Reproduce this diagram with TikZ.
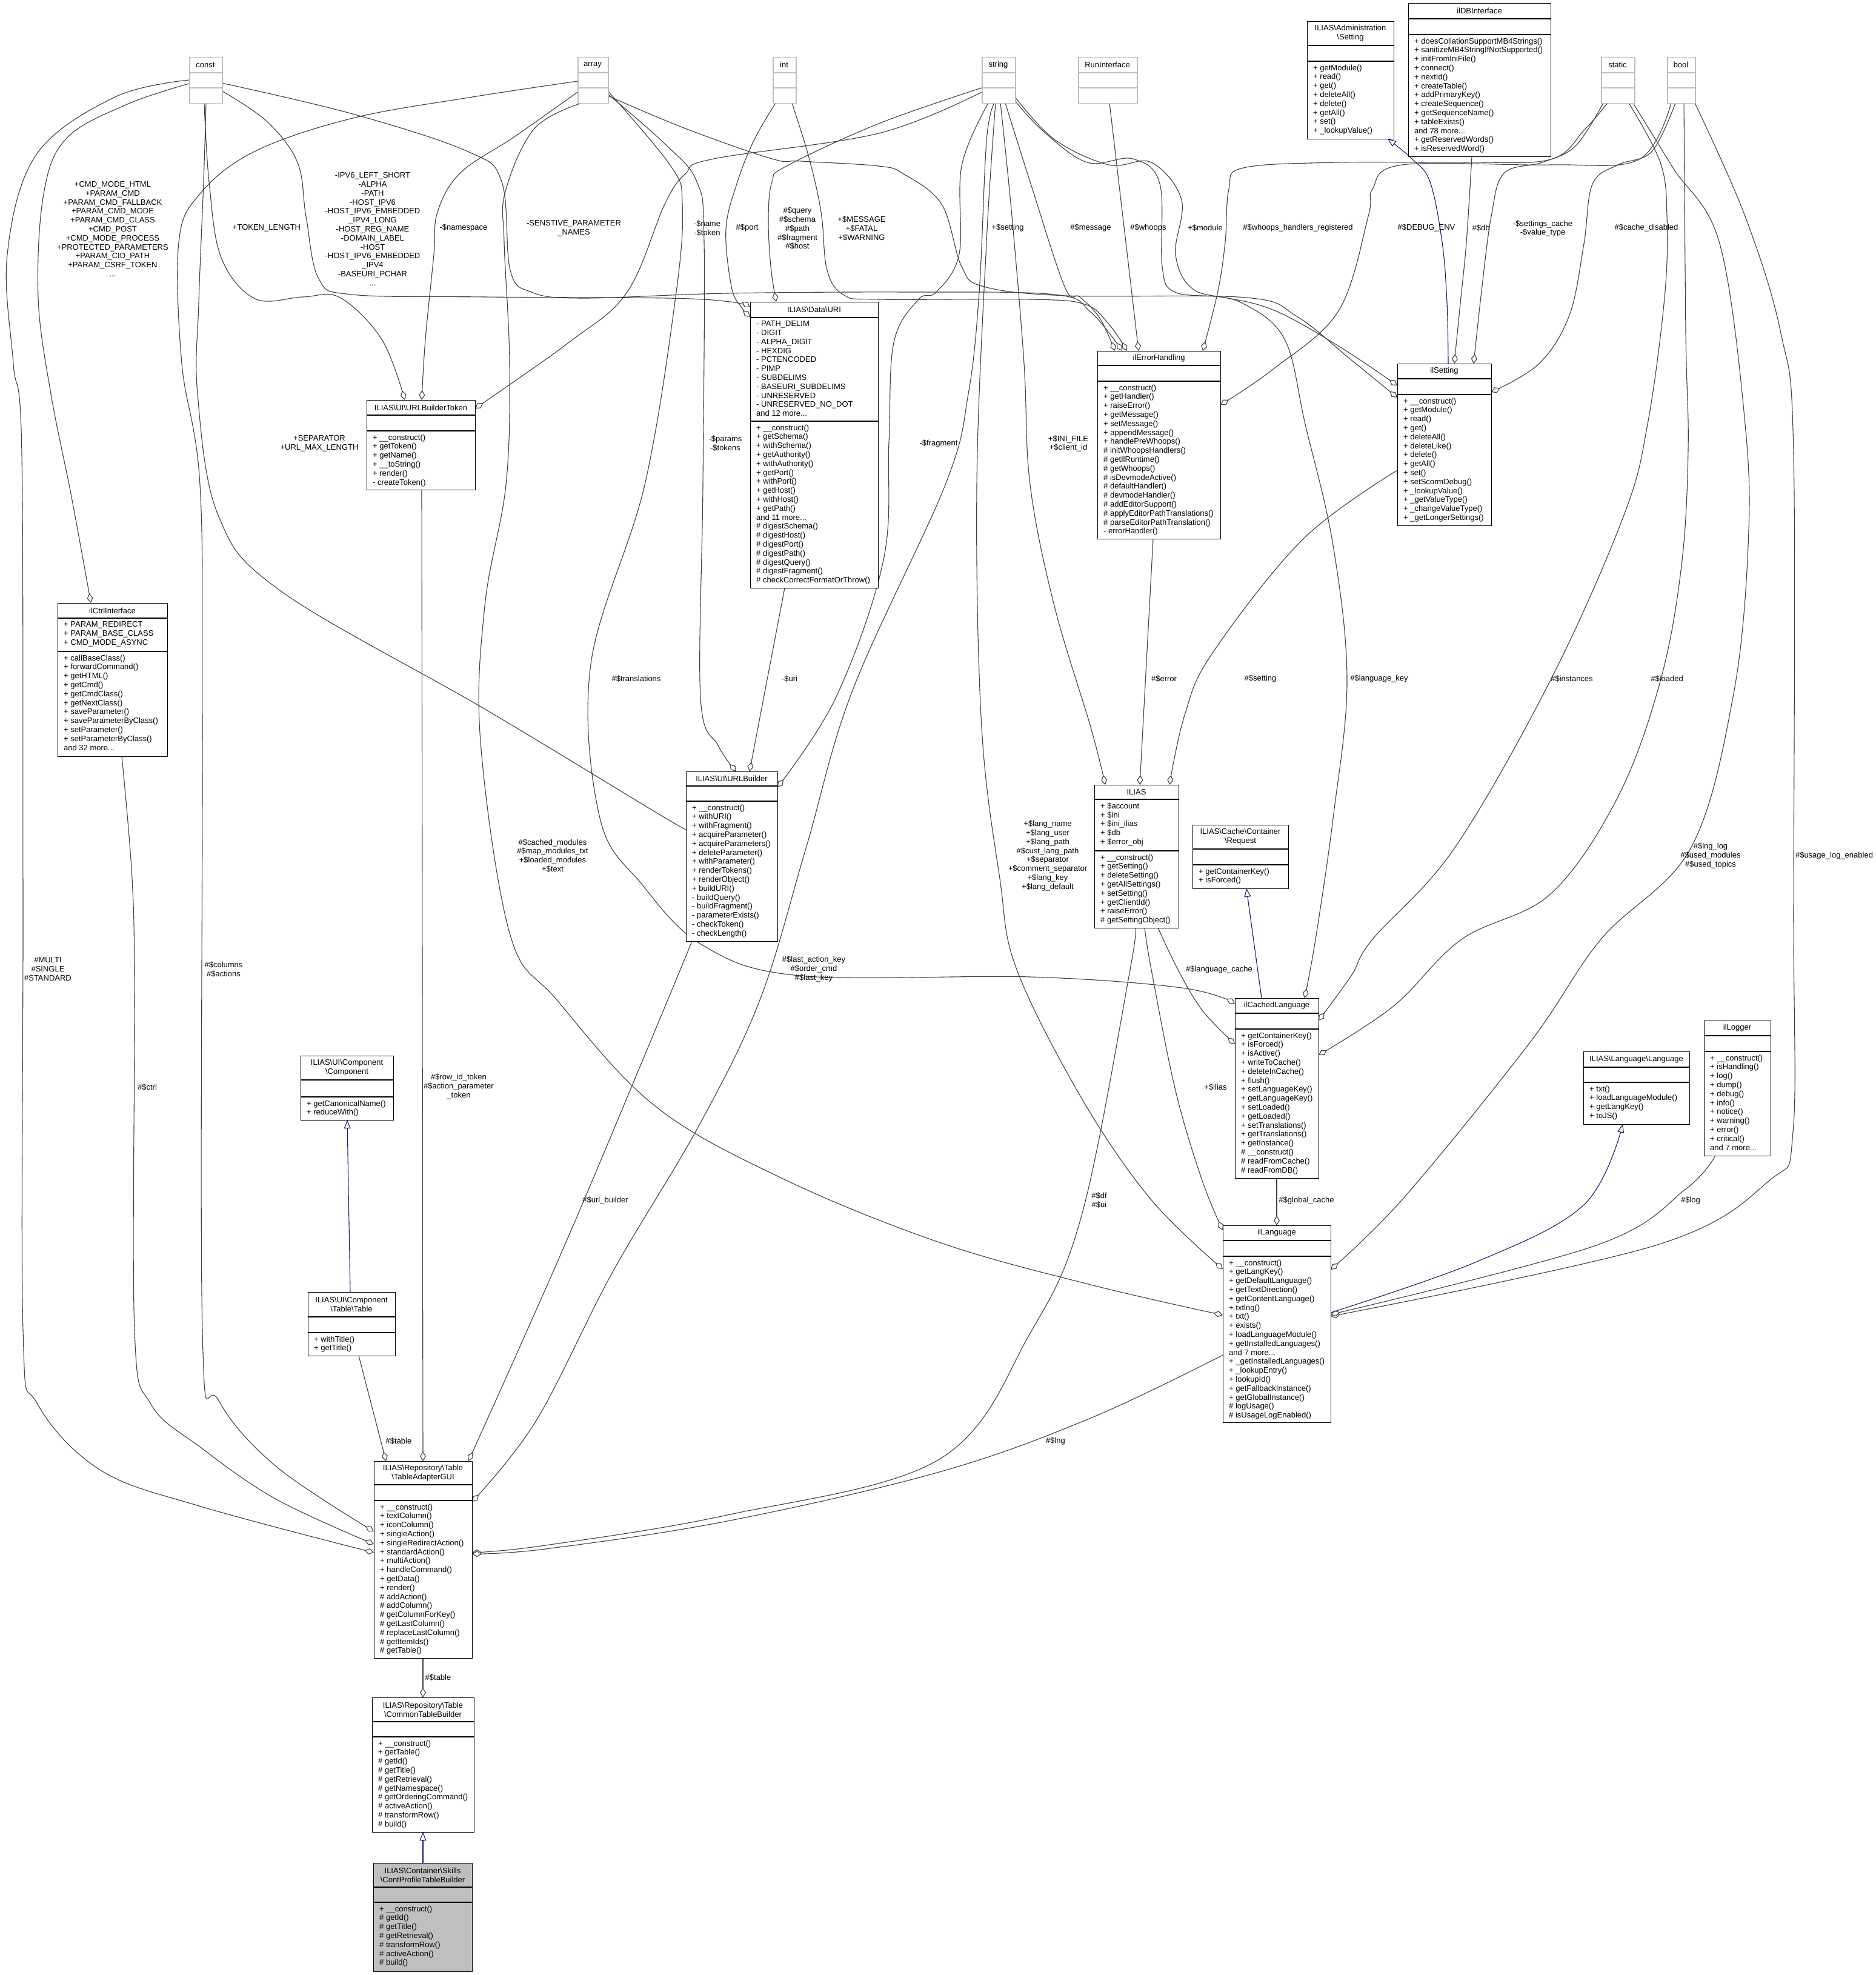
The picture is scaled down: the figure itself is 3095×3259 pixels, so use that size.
\documentclass[tikz,border=0pt]{standalone}
\usepackage{fontspec}
\setmainfont{Liberation Sans}
\usetikzlibrary{arrows.meta}
\definecolor{edgec}{HTML}{404040}
\definecolor{typec}{HTML}{BFBFBF}
\definecolor{inhc}{HTML}{191970}
\definecolor{curc}{HTML}{BFBFBF}
\pgfdeclarelayer{bg}
\pgfsetlayers{bg,main}
\tikzset{
 cbox/.style={draw=black,line width=1.3pt,inner sep=0pt,fill=white},
 boxline/.style={draw=black,line width=1.3pt},
 ttl/.style={font=\fontsize{13}{14.8}\selectfont,align=center,inner sep=0pt},
 mem/.style={font=\fontsize{13}{14.8}\selectfont,align=left,inner sep=0pt,anchor=north west},
 lbl/.style={font=\fontsize{13}{14.8}\selectfont,align=center,inner sep=0pt},
 conn/.style={draw=edgec,line width=1.1pt,-{Diamond[length=16pt,width=10pt,fill=white]}},
 inh/.style={draw=inhc,line width=1.1pt,-{Triangle[length=14pt,width=11pt,fill=white]}},
 sm/.style={smooth,tension=0.6}
}
\newcommand{\classbox}[9]{%
 \node[cbox,#8,minimum width={#4-#2},minimum height={#5-#3},anchor=north west] (#1) at (#2,#3) {};
 \draw[boxline] (#2,#6) -- (#4,#6) (#2,#7) -- (#4,#7);
 \node[ttl] at ({(#2+#4)/2},{(#3+#6)/2}) {#9};
}
\newcommand{\typebox}[4]{%
 \node[cbox,draw=typec,line width=1.5pt,minimum width={#3-#2},minimum height=76,anchor=north west] (#1) at (#2,94) {};
 \draw[typec,line width=1.5pt] (#2,120) -- (#3,120) (#2,145) -- (#3,145);
 \node[ttl] at ({(#2+#3)/2},107) {#4};
}
\begin{document}
\begin{tikzpicture}[x=1pt,y=-1pt]
\useasboundingbox (0,0) rectangle (3095,3259);

% ---------- type boxes ----------
\typebox{const}{312}{366}{const}
\typebox{array}{953}{1003}{array}
\typebox{int}{1275}{1313}{int}
\typebox{string}{1620}{1675}{string}
\typebox{runif}{1779}{1876}{RunInterface}
\typebox{static}{2642}{2697}{static}
\typebox{bool}{2751}{2797}{bool}

% ---------- class boxes ----------
\classbox{admset}{2157}{35}{2300}{229}{75}{101}{}{ILIAS\textbackslash Administration\\\textbackslash Setting}
\node[mem] at (2167,106.5) {+ getModule()\\+ read()\\+ get()\\+ deleteAll()\\+ delete()\\+ getAll()\\+ set()\\+ \_lookupValue()};

\classbox{dbi}{2324}{5}{2559}{258}{31}{57}{}{ilDBInterface}
\node[mem] at (2334,62.5) {+ doesCollationSupportMB4Strings()\\+ sanitizeMB4StringIfNotSupported()\\+ initFromIniFile()\\+ connect()\\+ nextId()\\+ createTable()\\+ addPrimaryKey()\\+ createSequence()\\+ getSequenceName()\\+ tableExists()\\and 78 more...\\+ getReservedWords()\\+ isReservedWord()};

\classbox{token}{605}{660}{784}{808}{685}{711}{}{ILIAS\textbackslash UI\textbackslash URLBuilderToken}
\node[mem] at (615,716.5) {+ \_\_construct()\\+ getToken()\\+ getName()\\+ \_\_toString()\\+ render()\\- createToken()};

\classbox{uri}{1238}{498}{1449}{970}{524}{695}{}{ILIAS\textbackslash Data\textbackslash URI}
\node[mem] at (1248,529.5) {- PATH\_DELIM\\- DIGIT\\- ALPHA\_DIGIT\\- HEXDIG\\- PCTENCODED\\- PIMP\\- SUBDELIMS\\- BASEURI\_SUBDELIMS\\- UNRESERVED\\- UNRESERVED\_NO\_DOT\\and 12 more...};
\node[mem] at (1248,700.5) {+ \_\_construct()\\+ getSchema()\\+ withSchema()\\+ getAuthority()\\+ withAuthority()\\+ getPort()\\+ withPort()\\+ getHost()\\+ withHost()\\+ getPath()\\and 11 more...\\\# digestSchema()\\\# digestHost()\\\# digestPort()\\\# digestPath()\\\# digestQuery()\\\# digestFragment()\\\# checkCorrectFormatOrThrow()};

\classbox{err}{1811}{579}{2014}{889}{603}{629}{}{ilErrorHandling}
\node[mem] at (1821,634.5) {+ \_\_construct()\\+ getHandler()\\+ raiseError()\\+ getMessage()\\+ setMessage()\\+ appendMessage()\\+ handlePreWhoops()\\\# initWhoopsHandlers()\\\# getIlRuntime()\\\# getWhoops()\\\# isDevmodeActive()\\\# defaultHandler()\\\# devmodeHandler()\\\# addEditorSupport()\\\# applyEditorPathTranslations()\\\# parseEditorPathTranslation()\\- errorHandler()};

\classbox{ilset}{2306}{600}{2461}{867}{625}{651}{}{ilSetting}
\node[mem] at (2316,656.5) {+ \_\_construct()\\+ getModule()\\+ read()\\+ get()\\+ deleteAll()\\+ deleteLike()\\+ delete()\\+ getAll()\\+ set()\\+ setScormDebug()\\+ \_lookupValue()\\+ \_getValueType()\\+ \_changeValueType()\\+ \_getLongerSettings()};

\classbox{ctrl}{95}{995}{276}{1248}{1020}{1075}{}{ilCtrlInterface}
\node[mem] at (105,1025.5) {+ PARAM\_REDIRECT\\+ PARAM\_BASE\_CLASS\\+ CMD\_MODE\_ASYNC};
\node[mem] at (105,1080.5) {+ callBaseClass()\\+ forwardCommand()\\+ getHTML()\\+ getCmd()\\+ getCmdClass()\\+ getNextClass()\\+ saveParameter()\\+ saveParameterByClass()\\+ setParameter()\\+ setParameterByClass()\\and 32 more...};

\classbox{ub}{1132}{1273}{1283}{1553}{1297}{1322}{}{ILIAS\textbackslash UI\textbackslash URLBuilder}
\node[mem] at (1142,1327.5) {+ \_\_construct()\\+ withURI()\\+ withFragment()\\+ acquireParameter()\\+ acquireParameters()\\+ deleteParameter()\\+ withParameter()\\+ renderTokens()\\+ renderObject()\\+ buildURI()\\- buildQuery()\\- buildFragment()\\- parameterExists()\\- checkToken()\\- checkLength()};

\classbox{ilias}{1806}{1295}{1945}{1531}{1319}{1404}{}{ILIAS}
\node[mem] at (1816,1324.5) {+ \$account\\+ \$ini\\+ \$ini\_ilias\\+ \$db\\+ \$error\_obj};
\node[mem] at (1816,1409.5) {+ \_\_construct()\\+ getSetting()\\+ deleteSetting()\\+ getAllSettings()\\+ setSetting()\\+ getClientId()\\+ raiseError()\\\# getSettingObject()};

\classbox{req}{1968}{1361}{2126}{1466}{1401}{1427}{}{ILIAS\textbackslash Cache\textbackslash Container\\\textbackslash Request}
\node[mem] at (1978,1432.5) {+ getContainerKey()\\+ isForced()};

\classbox{cached}{2038}{1647}{2176}{1944}{1672}{1698}{}{ilCachedLanguage}
\node[mem] at (2048,1703.5) {+ getContainerKey()\\+ isForced()\\+ isActive()\\+ writeToCache()\\+ deleteInCache()\\+ flush()\\+ setLanguageKey()\\+ getLanguageKey()\\+ setLoaded()\\+ getLoaded()\\+ setTranslations()\\+ getTranslations()\\+ getInstance()\\\# \_\_construct()\\\# readFromCache()\\\# readFromDB()};

\classbox{comp}{496}{1742}{649}{1848}{1782}{1810}{}{ILIAS\textbackslash UI\textbackslash Component\\\textbackslash Component}
\node[mem] at (506,1815.5) {+ getCanonicalName()\\+ reduceWith()};

\classbox{table}{508}{2132}{652}{2237}{2173}{2199}{}{ILIAS\textbackslash UI\textbackslash Component\\\textbackslash Table\textbackslash Table}
\node[mem] at (518,2204.5) {+ withTitle()\\+ getTitle()};

\classbox{lang}{2613}{1735}{2788}{1855}{1761}{1786}{}{ILIAS\textbackslash Language\textbackslash Language}
\node[mem] at (2623,1791.5) {+ txt()\\+ loadLanguageModule()\\+ getLangKey()\\+ toJS()};

\classbox{logger}{2812}{1684}{2922}{1907}{1709}{1735}{}{ilLogger}
\node[mem] at (2822,1740.5) {+ \_\_construct()\\+ isHandling()\\+ log()\\+ dump()\\+ debug()\\+ info()\\+ notice()\\+ warning()\\+ error()\\+ critical()\\and 7 more...};

\classbox{lng}{2018}{2022}{2196}{2347}{2047}{2073}{}{ilLanguage}
\node[mem] at (2028,2078.5) {+ \_\_construct()\\+ getLangKey()\\+ getDefaultLanguage()\\+ getTextDirection()\\+ getContentLanguage()\\+ txtlng()\\+ txt()\\+ exists()\\+ loadLanguageModule()\\+ getInstalledLanguages()\\and 7 more...\\+ \_getInstalledLanguages()\\+ \_lookupEntry()\\+ lookupId()\\+ getFallbackInstance()\\+ getGlobalInstance()\\\# logUsage()\\\# isUsageLogEnabled()};

\classbox{tag}{617}{2411}{779}{2736}{2450}{2476}{}{ILIAS\textbackslash Repository\textbackslash Table\\\textbackslash TableAdapterGUI}
\node[mem] at (627,2481.5) {+ \_\_construct()\\+ textColumn()\\+ iconColumn()\\+ singleAction()\\+ singleRedirectAction()\\+ standardAction()\\+ multiAction()\\+ handleCommand()\\+ getData()\\+ render()\\\# addAction()\\\# addColumn()\\\# getColumnForKey()\\\# getLastColumn()\\\# replaceLastColumn()\\\# getItemIds()\\\# getTable()};

\classbox{ctb}{614}{2801}{782}{3023}{2841}{2866}{}{ILIAS\textbackslash Repository\textbackslash Table\\\textbackslash CommonTableBuilder}
\node[mem] at (624,2871.5) {+ \_\_construct()\\+ getTable()\\\# getId()\\\# getTitle()\\\# getRetrieval()\\\# getNamespace()\\\# getOrderingCommand()\\\# activeAction()\\\# transformRow()\\\# build()};

\classbox{cpt}{616}{3074}{779}{3253}{3114}{3139}{fill=curc}{ILIAS\textbackslash Container\textbackslash Skills\\\textbackslash ContProfileTableBuilder}
\node[mem] at (626,3144.5) {+ \_\_construct()\\\# getId()\\\# getTitle()\\\# getRetrieval()\\\# transformRow()\\\# activeAction()\\\# build()};

% ---------- connectors ----------
\begin{pgfonlayer}{bg}
\fill[white] (0,0) rectangle (3095,3259);
\draw[conn] plot[sm] coordinates {([shift={(0,44)}]const.north west) (210,172) (110,228) (72,320) (63,491) (84,650) (118,820) ([shift={(55,0)}]ctrl.north west)};
\draw[conn] plot[sm] coordinates {([shift={(0,38)}]const.north west) (190,160) (60,255) (12,420) (22,600) (36,750) (38,1500) (38,2195) (62,2317) (166,2426) (332,2486) ([shift={(0,151)}]tag.north west)};
\draw[conn] plot[sm] coordinates {([shift={(25,76)}]const.north west) (345,300) (365,425) (421,493) (500,490) (561,491) (630,560) ([shift={(63,0)}]token.north west)};
\draw[conn] plot[sm] coordinates {([shift={(54,56)}]const.north west) (440,200) (491,268) (505,357) (526,460) (580,486) (800,490) (1100,492) (1205,498) ([shift={(0,9)}]uri.north west)};
\draw[conn] plot[sm] coordinates {([shift={(54,43)}]const.north west) (582,188) (772,250) (828,300) (842,446) (877,482) (960,492) (1200,484) (1500,482) (1740,486) (1800,515) ([shift={(41,0)}]err.north west)};
\draw[conn] plot[sm] coordinates {([shift={(28,76)}]const.north west) (336,300) (328,500) (326,650) (360,850) (463,975) (800,1170) (1090,1345) ([shift={(0,95)}]ub.north west)};
\draw[conn] plot[sm] coordinates {([shift={(0,58)}]array.north west) (850,225) (760,285) (722,350) (716,420) (702,560) ([shift={(91,0)}]token.north west)};
\draw[conn] plot[sm] coordinates {([shift={(0,40)}]array.north west) (780,160) (582,195) (420,250) (330,320) (295,400) (300,600) (330,800) (334,1200) (334,2195) (361,2311) (456,2420) ([shift={(0,116)}]tag.north west)};
\draw[conn] plot[sm] coordinates {([shift={(50,61)}]array.north west) (1100,240) (1150,300) (1162,400) (1160,800) (1156,1150) (1185,1230) ([shift={(83,0)}]ub.north west)};
\draw[conn] plot[sm] coordinates {([shift={(50,56)}]array.north west) (1107,274) (1126,337) (1116,482) (1064,800) (975,1096) (990,1350) (1060,1460) (1160,1560) (1320,1610) (1700,1612) (1950,1630) ([shift={(0,9)}]cached.north west)};
\draw[conn] plot[sm] coordinates {([shift={(7,76)}]array.north west) (882,212) (834,316) (832,400) (841,600) (835,800) (800,1000) (793,1224) (842,1543) (919,1650) (1081,1825) (1292,1945) (1550,2050) (1800,2120) ([shift={(0,148)}]lng.north west)};
\draw[conn] plot[sm] coordinates {([shift={(50,64)}]array.north west) (1131,212) (1274,262) (1322,266) (1450,274) (1491,287) (1554,337) (1587,440) (1624,473) (1760,488) (2056,491) (2140,522) (2230,594) ([shift={(0,56)}]ilset.north west)};
\draw[conn] plot[sm] coordinates {([shift={(5,76)}]int.north west) (1245,230) (1217,300) (1198,378) (1207,473) (1222,505) ([shift={(0,25)}]uri.north west)};
\draw[conn] plot[sm] coordinates {([shift={(32,76)}]int.north west) (1335,260) (1355,350) (1365,446) (1393,487) (1450,494) (1700,494) (1790,502) (1830,535) ([shift={(49,0)}]err.north west)};
\draw[conn] plot[sm] coordinates {([shift={(0,58)}]string.north west) (1450,220) (1178,262) (1131,287) (1097,337) (1035,482) (939,565) ([shift={(179,14)}]token.north west)};
\draw[conn] plot[sm] coordinates {([shift={(0,51)}]string.north west) (1450,204) (1298,274) (1274,300) (1268,360) (1272,440) ([shift={(43,0)}]uri.north west)};
\draw[conn] plot[sm] coordinates {([shift={(11,76)}]string.north west) (1587,274) (1583,419) (1545,482) (1516,494) (1475,565) (1467,730) (1458,924) (1380,1150) ([shift={(151,26)}]ub.north west)};
\draw[conn] plot[sm] coordinates {([shift={(21,76)}]string.north west) (1628,233) (1616,482) (1598,650) (1560,800) (1407,1139) (1330,1400) (1254,1650) (1152,1860) (1011,2099) (885,2344) ([shift={(162,67)}]tag.north west)};
\draw[conn] plot[sm] coordinates {([shift={(31,76)}]string.north west) (1670,357) (1690,600) (1700,800) (1740,1000) (1800,1200) ([shift={(18,0)}]ilias.north west)};
\draw[conn] plot[sm] coordinates {([shift={(23,76)}]string.north west) (1628,400) (1612,800) (1620,1200) (1650,1450) (1678,1600) (1786,1814) (1900,1980) ([shift={(0,72)}]lng.north west)};
\draw[conn] plot[sm] coordinates {([shift={(39,76)}]string.north west) (1700,300) (1757,473) (1782,490) (1815,525) ([shift={(29,0)}]err.north west)};
\draw[conn] plot[sm] coordinates {([shift={(54,71)}]string.north west) (1720,215) (1794,268) (1869,262) (1914,303) (1918,440) (1939,482) (2021,491) (2105,513) (2209,571) ([shift={(0,36)}]ilset.north west)};
\draw[conn] plot[sm] coordinates {([shift={(55,66)}]string.north west) (1740,230) (1830,272) (1900,268) (1950,330) (1940,420) (1970,478) (2050,500) (2120,560) (2154,700) (2200,900) (2223,1124) (2200,1350) (2171,1550) ([shift={(115,0)}]cached.north west)};
\draw[conn] ([shift={(52,76)}]runif.north west) -- ([shift={(68,0)}]err.north west);
\draw[conn] plot[sm] coordinates {([shift={(11,76)}]static.north west) (2615,214) (2559,263) (2419,268) (2209,268) (2052,277) (2028,312) (2022,399) (2010,480) ([shift={(174,0)}]err.north west)};
\draw[conn] plot[sm] coordinates {([shift={(4,76)}]static.north west) (2600,241) (2545,268) (2482,286) (2461,357) (2445,480) ([shift={(126,0)}]ilset.north west)};
\draw[conn] plot[sm] coordinates {([shift={(105,253)}]dbi.north west) (2420,400) (2410,500) ([shift={(94,0)}]ilset.north west)};
\draw[inh] plot[sm] coordinates {([shift={(84,0)}]ilset.north west) (2388,500) (2380,400) (2360,300) (2330,262) ([shift={(133,194)}]admset.north west)};
\draw[conn] plot[sm] coordinates {([shift={(14,76)}]bool.north west) (2726,250) (2670,272) (2628,304) (2614,402) (2590,520) (2540,600) ([shift={(155,47)}]ilset.north west)};
\draw[conn] plot[sm] coordinates {([shift={(7,76)}]bool.north west) (2705,263) (2559,272) (2314,272) (2265,312) (2258,357) (2209,513) (2100,610) ([shift={(203,89)}]err.north west)};
\draw[conn] plot[sm] coordinates {([shift={(46,76)}]static.north west) (2740,268) (2751,357) (2747,491) (2719,700) (2680,850) (2560,1120) (2400,1400) (2265,1550) (2230,1610) ([shift={(138,37)}]cached.north west)};
\draw[conn] plot[sm] coordinates {([shift={(28,76)}]bool.north west) (2782,550) (2786,741) (2775,933) (2740,1124) (2670,1315) (2559,1475) (2412,1550) (2300,1660) ([shift={(138,94)}]cached.north west)};
\draw[conn] plot[sm] coordinates {([shift={(53,76)}]static.north west) (2761,277) (2838,402) (2880,700) (2885,900) (2860,1150) (2790,1400) (2642,1550) (2525,1720) (2318,1975) ([shift={(178,73)}]lng.north west)};
\draw[conn] plot[sm] coordinates {([shift={(46,76)}]bool.north west) (2880,357) (2939,550) (2960,750) (2960,1500) (2959,1868) (2920,1948) (2732,2055) ([shift={(178,150)}]lng.north west)};
\draw[conn] plot[sm] coordinates {([shift={(19,223)}]logger.north west) (2782,1962) (2634,2055) ([shift={(178,147)}]lng.north west)};
\draw[inh] plot[sm] coordinates {([shift={(178,144)}]lng.north west) (2437,2082) (2614,1988) ([shift={(65,120)}]lang.north west)};
\draw[conn] ([shift={(69,297)}]cached.north west) -- ([shift={(89,0)}]lng.north west);
\draw[inh] ([shift={(44,0)}]cached.north west) -- ([shift={(89,105)}]req.north west);
\draw[conn] plot[sm] coordinates {([shift={(105,236)}]ilias.north west) (1944,1600) (1984,1667) ([shift={(0,76)}]cached.north west)};
\draw[conn] plot[sm] coordinates {([shift={(83,236)}]ilias.north west) (1900,1600) (1940,1800) (1984,1948) ([shift={(0,8)}]lng.north west)};
\draw[conn] plot[sm] coordinates {([shift={(67,236)}]ilias.north west) (1865,1600) (1786,2002) (1700,2200) (1550,2408) (1200,2500) (900,2550) ([shift={(162,151)}]tag.north west)};
\draw[conn] plot[sm] coordinates {([shift={(0,214)}]lng.north west) (1800,2340) (1550,2429) (1200,2510) (900,2556) ([shift={(162,153)}]tag.north west)};
\draw[conn] ([shift={(92,310)}]err.north west) -- ([shift={(75,0)}]ilias.north west);
\draw[conn] plot[sm] coordinates {([shift={(0,176)}]ilset.north west) (2150,890) (2000,1079) (1955,1180) ([shift={(124,0)}]ilias.north west)};
\draw[conn] ([shift={(57,472)}]uri.north west) -- ([shift={(105,0)}]ub.north west);
\draw[conn] plot[sm] coordinates {([shift={(10,280)}]ub.north west) (1102,1650) (955,2001) (850,2240) ([shift={(156,0)}]tag.north west)};
\draw[conn] ([shift={(91,148)}]token.north west) -- ([shift={(81,0)}]tag.north west);
\draw[conn] ([shift={(84,105)}]table.north west) -- ([shift={(20,0)}]tag.north west);
\draw[inh] ([shift={(70,0)}]table.north west) -- ([shift={(77,106)}]comp.north west);
\draw[conn] plot[sm] coordinates {([shift={(106,253)}]ctrl.north west) (218,1450) (222,1650) (222,2195) (249,2317) (332,2389) (456,2474) ([shift={(0,137)}]tag.north west)};
\draw[conn] ([shift={(81,325)}]tag.north west) -- ([shift={(84,0)}]ctb.north west);
\draw[inh] ([shift={(82,0)}]cpt.north west) -- ([shift={(84,222)}]ctb.north west);
\end{pgfonlayer}

% ---------- connector labels ----------
\node[lbl] (l1) at (186,378) {+CMD\_MODE\_HTML\\+PARAM\_CMD\\+PARAM\_CMD\_FALLBACK\\+PARAM\_CMD\_MODE\\+PARAM\_CMD\_CLASS\\+CMD\_POST\\+CMD\_MODE\_PROCESS\\+PROTECTED\_PARAMETERS\\+PARAM\_CID\_PATH\\+PARAM\_CSRF\_TOKEN\\...};
\node[lbl] (l2) at (440,376) {+TOKEN\_LENGTH};
\node[lbl] (l3) at (615,378) {-IPV6\_LEFT\_SHORT\\-ALPHA\\-PATH\\-HOST\_IPV6\\-HOST\_IPV6\_EMBEDDED\\\_IPV4\_LONG\\-HOST\_REG\_NAME\\-DOMAIN\_LABEL\\-HOST\\-HOST\_IPV6\_EMBEDDED\\\_IPV4\\-BASEURI\_PCHAR\\...};
\node[lbl] (l4) at (765,376) {-\$namespace};
\node[lbl] (l5) at (947,377) {-SENSTIVE\_PARAMETER\\\_NAMES};
\node[lbl] (l6) at (1167,377) {-\$name\\-\$token};
\node[lbl] (l7) at (1233,376) {\#\$port};
\node[lbl] (l8) at (1316,377) {\#\$query\\\#\$schema\\\#\$path\\\#\$fragment\\\#\$host};
\node[lbl] (l9) at (1422,377) {+\$MESSAGE\\+\$FATAL\\+\$WARNING};
\node[lbl] (l10) at (1663,376) {+\$setting};
\node[lbl] (l11) at (1800,376) {\#\$message};
\node[lbl] (l12) at (1895,376) {\#\$whoops};
\node[lbl] (l13) at (1989,376) {+\$module};
\node[lbl] (l14) at (2142,376) {\#\$whoops\_handlers\_registered};
\node[lbl] (l15) at (2354,376) {\#\$DEBUG\_ENV};
\node[lbl] (l16) at (2444,376) {\#\$db};
\node[lbl] (l17) at (2546,377) {-\$settings\_cache\\-\$value\_type};
\node[lbl] (l18) at (2717,376) {\#\$cache\_disabled};
\node[lbl] (l19) at (527,732) {+SEPARATOR\\+URL\_MAX\_LENGTH};
\node[lbl] (l20) at (1197,732) {-\$params\\-\$tokens};
\node[lbl] (l21) at (1549,732) {-\$fragment};
\node[lbl] (l22) at (1763,732) {+\$INI\_FILE\\+\$client\_id};
\node[lbl] (l23) at (1050,1120) {\#\$translations};
\node[lbl] (l24) at (1303,1120) {-\$uri};
\node[lbl] (l25) at (1921,1120) {\#\$error};
\node[lbl] (l26) at (2080,1120) {\#\$setting};
\node[lbl] (l27) at (2276,1120) {\#\$language\_key};
\node[lbl] (l28) at (2594,1120) {\#\$instances};
\node[lbl] (l29) at (2751,1120) {\#\$loaded};
\node[lbl] (l30) at (912,1412) {\#\$cached\_modules\\\#\$map\_modules\_txt\\+\$loaded\_modules\\+\$text};
\node[lbl] (l31) at (1729,1412) {+\$lang\_name\\+\$lang\_user\\+\$lang\_path\\\#\$cust\_lang\_path\\+\$separator\\+\$comment\_separator\\+\$lang\_key\\+\$lang\_default};
\node[lbl] (l32) at (2823,1412) {\#\$lng\_log\\\#\$used\_modules\\\#\$used\_topics};
\node[lbl] (l33) at (3027,1412) {\#\$usage\_log\_enabled};
\node[lbl] (l34) at (79,1599) {\#MULTI\\\#SINGLE\\\#STANDARD};
\node[lbl] (l35) at (369,1600) {\#\$columns\\\#\$actions};
\node[lbl] (l36) at (1343,1599) {\#\$last\_action\_key\\\#\$order\_cmd\\\#\$last\_key};
\node[lbl] (l37) at (2012,1600) {\#\$language\_cache};
\node[lbl] (l38) at (243,1794) {\#\$ctrl};
\node[lbl] (l39) at (757,1793) {\#\$row\_id\_token\\\#\$action\_parameter\\\_token};
\node[lbl] (l40) at (999,1981) {\#\$url\_builder};
\node[lbl] (l41) at (1814,1981) {\#\$df\\\#\$ui};
\node[lbl] (l42) at (2006,1794) {+\$ilias};
\node[lbl] (l43) at (2156,1981) {\#\$global\_cache};
\node[lbl] (l44) at (2790,1981) {\#\$log};
\node[lbl] (l45) at (658,2378) {\#\$table};
\node[lbl] (l46) at (1742,2378) {\#\$lng};
\node[lbl] (l47) at (723,2768) {\#\$table};
\end{tikzpicture}
\end{document}
